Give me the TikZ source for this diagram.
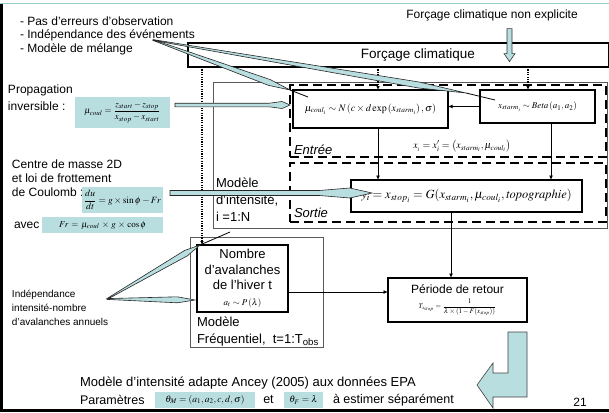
\documentclass[tikz,border=0pt]{standalone}
\usepackage{amsmath}
\usepackage{mathptmx}
\usepackage[no-math]{fontspec}
\setmainfont{Liberation Sans}
\usetikzlibrary{calc,arrows.meta}
\definecolor{tealbg}{RGB}{185,222,224}
\definecolor{tealln}{RGB}{150,205,208}
\newcommand\fsz[2]{\fontsize{#1}{#2}\selectfont}
% callout wedge: from, to, fraction, start half width, head half width
\newcommand\wdg[5]{\draw[callw] ($(#1)!#4!90:(#2)$) -- ($(#1)!#3!(#2)!#5!90:(#2)$) -- (#2) -- ($(#1)!#3!(#2)!#5!-90:(#2)$) -- ($(#1)!#4!-90:(#2)$) -- cycle;}
% banded arrow: from, to, frac1, frac2, band half width, head half width
\newcommand\wdgb[6]{\draw[callw] ($(#1)!#5!90:(#2)$) -- ($(#1)!#3!(#2)!#5!90:(#2)$) -- ($(#1)!#4!(#2)!#6!90:(#2)$) -- (#2) -- ($(#1)!#4!(#2)!#6!-90:(#2)$) -- ($(#1)!#3!(#2)!#5!-90:(#2)$) -- ($(#1)!#5!-90:(#2)$) -- cycle;}
\begin{document}
\begin{tikzpicture}[x=1pt,y=-1pt,
  txt/.style={inner sep=0pt, outer sep=0pt},
  bx/.style={draw, line width=1.3pt, inner sep=0pt, outer sep=0pt},
  gbx/.style={draw=black!65, line width=0.9pt, inner sep=0pt, outer sep=0pt},
  dbx/.style={draw, line width=1.4pt, dash pattern=on 9pt off 5pt, inner sep=0pt, outer sep=0pt},
  fbx/.style={fill=tealbg, inner sep=0pt, outer sep=0pt},
  arr/.style={-{Latex[length=4.5pt,width=4pt]}, line width=1pt},
  dotln/.style={line width=1.1pt, dash pattern=on 1.1pt off 1.3pt, -{Latex[length=4pt,width=3.5pt]}},
  callw/.style={fill=tealbg, draw=black!85, line width=0.6pt}]
\useasboundingbox (0,0) rectangle (609,412);

% slide frame
\draw[tealln, line width=1pt] (0,4) -- (609,4);
\draw[line width=3pt] (1.5,4) -- (1.5,412);
\draw[line width=3pt] (0,410.5) -- (609,410.5);

% top texts
\node[txt, anchor=north west, align=left, font=\fsz{12}{13.5}] (hyp) at (20,16.4)
  {- Pas d'erreurs d'observation\\- Indépendance des événements\\- Modèle de mélange};
\node[txt, font=\fsz{12}{14}] (nonexp) at (492,15) {Forçage climatique non explicite};

% main boxes
\node[bx, line width=1.1pt, minimum width=421, minimum height=24] (forc) at (398.5,55) {};
\node[txt, font=\fsz{13.5}{15}] (forct) at (418,55) {Forçage climatique};
\node[gbx, minimum width=394, minimum height=146] (intens) at (410,155) {};
\node[txt, anchor=north west, align=left, font=\fsz{13}{17}] (intl) at (216,177.5)
  {Modèle\\d'intensité,\\i =1:N};
\node[dbx, minimum width=316, minimum height=72] (entree) at (448,121) {};
\node[dbx, minimum width=316, minimum height=59] (sortie) at (448,192.5) {};
\node[txt, anchor=west, font=\fsz{13}{15}\itshape] (entl) at (294,150) {Entrée};
\node[txt, anchor=west, font=\fsz{13}{15}\itshape] (sorl) at (294,213) {Sortie};

\node[bx, minimum width=155, minimum height=38, font=\fsz{10}{12}] (mu) at (370.5,109)
  {$\mu_{coul_i}\sim N\left(c\times d\exp\left(x_{starm_i}\right),\sigma\right)$};
\node[bx, minimum width=115, minimum height=33, font=\fsz{9}{11}] (beta) at (537.5,106.5)
  {$x_{starm_i}\sim \mathit{Beta}\left(a_1,a_2\right)$};
\node[txt, font=\fsz{10}{12}] (xi) at (462,146)
  {$x_{_i}=x'_i=\left(x_{starm_i},\mu_{coul_i}\right)$};
\node[bx, minimum width=231, minimum height=32, font=\fsz{12.5}{14}] (ybox) at (466.5,196)
  {$y_i=x_{stop_i}=G(x_{starm_i},\mu_{coul_i},\mathit{topographie})$};

\node[bx, line width=1.1pt, minimum width=139, minimum height=44, align=center, font=\fsz{12}{14}] (periode) at (457.5,300)
  {Période de retour\\[1pt]{\fsz{7}{8}$T_{x_{stop}}=\dfrac{1}{\lambda\times\left(1-F(x_{stop})\right)}$}};

\node[gbx, minimum width=133, minimum height=110] (freq) at (256.5,292) {};
\node[bx, minimum width=91, minimum height=67, align=center, font=\fsz{13}{15.5}] (nombre) at (242.5,278.5)
  {Nombre\\d'avalanches\\de l'hiver t\\{\fsz{9}{10}$a_t\sim P\left(\lambda\right)$}};
\node[txt, anchor=north west, align=left, font=\fsz{13}{17}] (freql) at (197,316.5)
  {Modèle\\Fréquentiel,\ \ t=1:T\textsubscript{obs}};

% left texts and formula boxes
\node[txt, anchor=north west, align=left, font=\fsz{12}{17}] (prop) at (8,84.5) {Propagation\\inversible :};
\node[fbx, minimum width=95, minimum height=31, font=\fsz{9}{10}] (f1) at (122.5,112.5)
  {$\mu_{coul}=\dfrac{z_{start}-z_{stop}}{x_{stop}-x_{start}}$};
\node[txt, anchor=north west, align=left, font=\fsz{12}{14}] (centre) at (12,159.5)
  {Centre de masse 2D\\et loi de frottement\\de Coulomb :};
\node[fbx, minimum width=81, minimum height=26, font=\fsz{9.5}{10}] (f2) at (122.5,200)
  {$\dfrac{du}{dt}=g\times\sin\phi-Fr$};
\node[txt, anchor=west, font=\fsz{12}{14}] (avec) at (14,225) {avec};
\node[fbx, minimum width=121, minimum height=16, font=\fsz{9}{11}] (f3) at (102.5,225)
  {$Fr\,=\,\mu_{coul}\,\times\,g\,\times\,\cos\phi$};
\node[txt, anchor=north west, align=left, font=\fsz{10}{14}] (indept) at (12,290.5)
  {Indépendance\\intensité-nombre\\d'avalanches annuels};

% bottom texts
\node[txt, anchor=west, font=\fsz{13}{15}] (bot1) at (80,383) {Modèle d'intensité adapte Ancey (2005) aux données EPA};
\node[txt, anchor=west, font=\fsz{12.5}{15}] (bot2) at (80,400) {Paramètres};
\node[fbx, minimum width=100, minimum height=16, font=\fsz{9.5}{11}] (thm) at (205,400)
  {$\theta_M=\left(a_1,a_2,c,d,\sigma\right)$};
\node[txt, font=\fsz{12.5}{15}] (et) at (268.5,400) {et};
\node[fbx, minimum width=39, minimum height=16, font=\fsz{9.5}{11}] (thf) at (303.5,400) {$\theta_F=\lambda$};
\node[txt, anchor=west, font=\fsz{12.5}{15}] (bot3) at (333,400) {à estimer séparément};
\node[txt, font=\fsz{12}{14}] (num) at (580,402) {21};

% arrows between boxes
\draw[arr] (beta.west) -- (beta.west -| mu.east);
\draw[arr] ([xshift=7.5pt]mu.south) -- ([xshift=7.5pt]mu.south |- ybox.north);
\draw[arr] ([xshift=13.5pt]beta.south) -- ([xshift=13.5pt]beta.south |- ybox.north);
\draw[arr] ([xshift=-15.5pt]ybox.south) -- ([xshift=-15.5pt]ybox.south |- periode.north);
\draw[arr] ([yshift=-13.5pt]nombre.east) -- ([yshift=-13.5pt]nombre.east -| periode.west);
\draw[dotln] ([xshift=7.5pt]mu.north |- forc.south) -- ([xshift=7.5pt]mu.north);
\draw[dotln] ([xshift=-9.5pt]beta.north |- forc.south) -- ([xshift=-9.5pt]beta.north);
\draw[dotln] ([xshift=5pt]nombre.north west |- forc.south) -- ([xshift=5pt]nombre.north west);

% hollow arrow below "non explicite"
\draw[fill=tealbg, draw=black!80, line width=0.6pt]
  ([xshift=-2.5pt,yshift=-8pt]nonexp.south -| 509.5,0) -- ++(0,25) -- ++(-3,0) -- ++(5.5,8) -- ++(5.5,-8) -- ++(-3,0) -- ++(0,-25) -- cycle;

% callouts
\coordinate (hsrc) at (153,40);
\coordinate (w1e) at (290,90);
\coordinate (w1t) at (308,97);
\coordinate (w2e) at (466,93);
\coordinate (w2t) at (495,100);
\coordinate (isrc) at (107,299);
\coordinate (w5e) at (200,245);
\coordinate (w5t) at (230,232);
\coordinate (w6e) at (195,300);
\coordinate (p1s) at ($(f1.east)+(5,-7.5)$);
\coordinate (p1e) at ($(mu.west)+(-3,-4)$);
\coordinate (p2s) at ($(f2.east)+(7,-7)$);
\coordinate (p2e) at ($(ybox.west)+(21,-3)$);

\wdg{hsrc}{w1e}{0.85}{0.4pt}{3pt}
\draw[line width=0.8pt] (w1e) -- (w1t);
\wdg{hsrc}{w2e}{0.85}{0.4pt}{3pt}
\draw[line width=0.8pt] (w2e) -- (w2t);
\wdgb{p1s}{p1e}{0.82}{0.93}{1.8pt}{3.5pt}
\wdgb{p2s}{p2e}{0.74}{0.89}{2.5pt}{5pt}
\wdg{isrc}{w5e}{0.85}{0.4pt}{3pt}
\draw[line width=0.8pt] (w5e) -- (w5t);
\wdg{isrc}{w6e}{0.8}{0.4pt}{3pt}

% big L arrow
\draw[fill=tealbg, draw=black!75, line width=0.6pt]
  (527,332) -- (527,397) -- (493,397) -- (493,408) -- (477,385) -- (493,363) -- (493,373) -- (508,373) -- (508,332) -- cycle;
\end{tikzpicture}
\end{document}
